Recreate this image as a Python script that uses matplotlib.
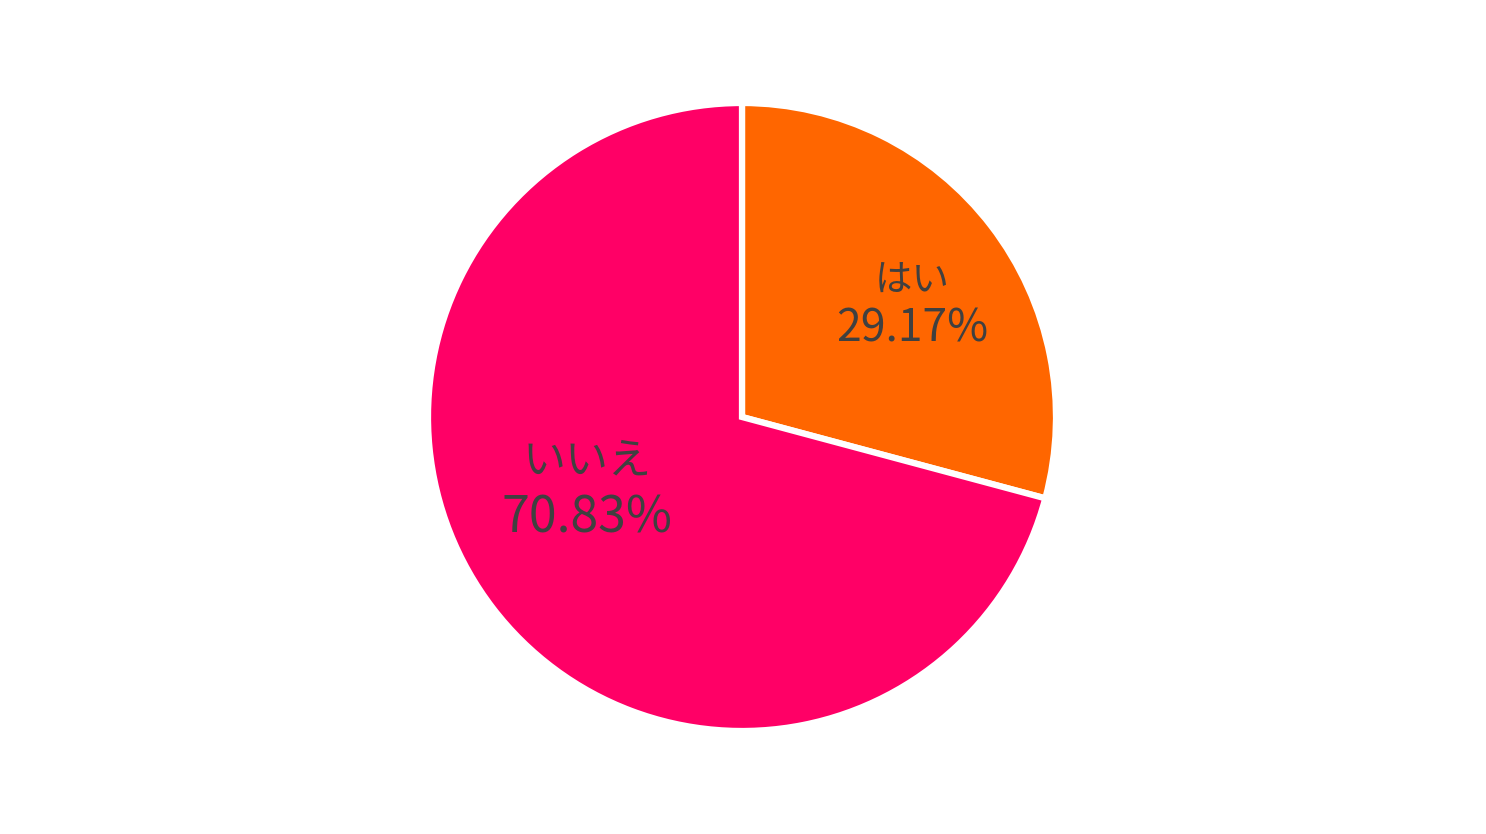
import matplotlib
matplotlib.use("Agg")
import matplotlib.pyplot as plt
import numpy as np

plt.rcParams['font.family'] = ['Noto Sans CJK JP', 'DejaVu Sans']

labels = ["はい", "いいえ"]
values = [29.17, 70.83]
colors = ["#FF6600", "#FF0066"]
label_sizes = [27, 31]
pct_sizes = [32, 36]
label_r = [0.66, 0.54]
label_ang_shift = [-2.6, -13.5]

W, H = 1486, 834
fig = plt.figure(figsize=(W / 100, H / 100), dpi=100)
ax = fig.add_axes([0, 0, 1, 1])
R = 314.0
cx, cy = 742, 417

wedges, _ = ax.pie(values, colors=colors, startangle=90, counterclock=False,
                   radius=1.0, center=(0, 0), frame=True,
                   wedgeprops=dict(edgecolor="white", linewidth=4.5))
ax.set_xlim(-cx / R, (W - cx) / R)
ax.set_ylim(-(H - cy) / R, cy / R)
ax.axis("off")

label_off = [-1, 2]
pct_off = [-5, -5]
for i, w in enumerate(wedges):
    mid = np.deg2rad((w.theta1 + w.theta2) / 2 + label_ang_shift[i])
    x = label_r[i] * np.cos(mid)
    y = label_r[i] * np.sin(mid)
    ax.annotate(labels[i], (x, y), xytext=(0, label_off[i]), textcoords="offset points",
                ha="center", va="bottom", color="#404040", fontsize=label_sizes[i])
    ax.annotate(f"{values[i]:.2f}%", (x, y), xytext=(0, pct_off[i]), textcoords="offset points",
                ha="center", va="top", color="#404040", fontsize=pct_sizes[i])

fig.savefig("out.png", dpi=100, facecolor="white")
